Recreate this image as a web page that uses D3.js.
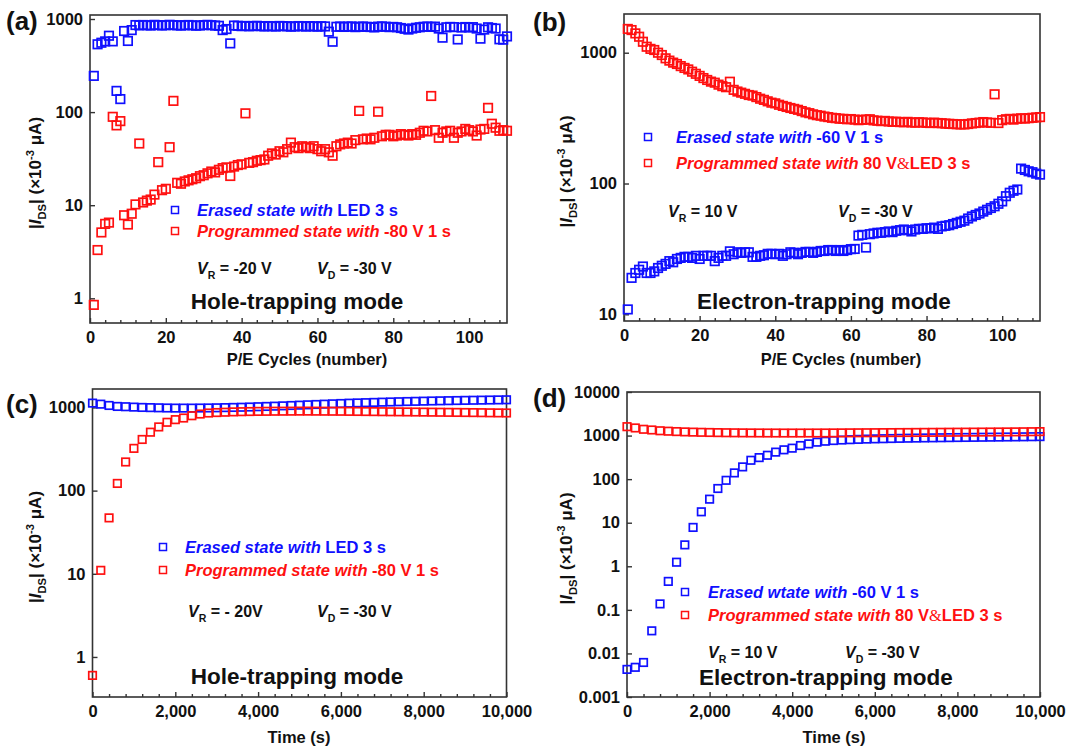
<!DOCTYPE html>
<html><head><meta charset="utf-8">
<script src="https://cdn.jsdelivr.net/npm/d3@7"></script>
<style>
body{margin:0;background:#fff}
text{font-family:"Liberation Sans",Arial,sans-serif;font-weight:bold}
</style>
</head><body><svg id="chart" width="1071" height="749"></svg>
<script>
// ---------- data ----------
const cycles = [1,2,3,4,5,6,7,8,9,10,11,12,13,14,15,16,17,18,19,20,21,22,23,24,25,26,27,28,29,30,31,32,33,34,35,36,37,38,39,40,41,42,43,44,45,46,47,48,49,50,51,52,53,54,55,56,57,58,59,60,61,62,63,64,65,66,67,68,69,70,71,72,73,74,75,76,77,78,79,80,81,82,83,84,85,86,87,88,89,90,91,92,93,94,95,96,97,98,99,100,101,102,103,104,105,106,107,108,109,110];
const times = [0,200,400,600,800,1000,1200,1400,1600,1800,2000,2200,2400,2600,2800,3000,3200,3400,3600,3800,4000,4200,4400,4600,4800,5000,5200,5400,5600,5800,6000,6200,6400,6600,6800,7000,7200,7400,7600,7800,8000,8200,8400,8600,8800,9000,9200,9400,9600,9800,10000];

// (a) hole-trapping, P/E cycles
const aErased = [245,535,556,575,661,575,169,138,743,581,760,
  861,855,862,858,850,865,860,852,858,866,860,855,850,858,862,855,848,852,860,865,858,850,845,
  760,780,547,
  850,845,838,842,835,840,845,838,832,840,836,830,842,838,835,828,832,840,836,830,838,834,828,836,832,
  731,570,
  825,830,822,828,832,818,826,830,824,820,812,828,832,826,818,822,815,800,785,770,790,805,815,825,830,822,828,790,630,815,822,818,603,810,820,812,818,790,615,770,815,800,790,605,600,650];
const aProg = [0.85,3.3,5.1,6.3,6.5,89,72,80,7.8,6.2,
  8.1,10.2,46,10.7,11.2,11.5,13,29,14.5,15,
  42,132,17.4,17,18,18.5,19,19.5,20.5,21,
  22,23,22.5,24,25,25.5,20.6,26,27,27.5,
  97,28.5,29,30,30.5,31,34,36,35,38,
  37,40,47,42,41,43,42,41,43,40,
  38,40,37,34,43,45,46,47,46,50,
  103,51,52,51,53,101,55,57,57,55,
  56,58,57,56,58,57,60,63,62,149,
  64,53,60,62,63,53,60,62,66,64,
  62,56,65,66,111,75,68,63,64,63];

// (b) electron-trapping, P/E cycles
const bErased = [10.9,19.0,20.7,21.9,23.2,20.7,20.7,21.3,22.6,23.5,
  24.3,25.5,25,26.5,27,27.5,27.5,27,28,26.5,
  28,28,28,25.5,27,28,28,30.3,28.8,29.8,
  29.5,29.8,29.8,27.5,27.5,28,28.3,29,29,28.8,
  29,28,28.8,29.8,29.5,28.8,29.5,30,30,29.5,
  30,30.5,30.5,31,31,30.5,31,30.5,31,31.5,
  31.6,40,40.5,32.4,41,41.5,42,42,42.5,43,
  42.5,43.5,44,44.5,44,43,44.5,45,45,45.5,
  45.5,46,45,47,47.5,48,49,50,51,52,
  54,56,57.5,59,61,63,65,67,70,73,
  80,85,88,90,130,127,124,122,119,117];
const bProg = [1520,1490,1405,1325,1213,1111,1070,1049,1000,960,
  906,870,840,820,790,765,745,716,690,665,
  640,619,601,590,570,555,545,600,520,505,
  495,485,475,470,458,445,436,425,415,410,
  400,392,385,378,372,366,358,350,345,338,
  333,330,325,322,318,316,313,312,310,311,
  308,305,307,308,310,304,302,300,301,298,
  296,297,295,294,296,293,292,294,293,291,
  290,292,290,289,287,286,285,284,283,283,
  285,288,290,292,295,293,291,481,290,305,
  310,312,308,313,315,314,316,318,320,322];

// (c) hole-trapping, retention
const cErased = [1127,1095,1056,1028,1020,1009,1000,995,990,985,982,982,982,984,986,990,995,1000,1005,1012,1020,1028,1036,1045,1055,1065,1075,1085,1095,1105,1115,1125,1133,1141,1149,1157,1164,1171,1178,1184,1190,1196,1201,1206,1211,1216,1220,1224,1228,1232,1236];
const cProg = [0.6,11,47,122,221,322,412,504,583,663,713,746,795,833,857,868,876,884,889,893,896,898,900,901,902,903,903,902,901,900,899,897,895,893,891,889,887,885,883,881,879,877,875,873,871,869,867,865,862,860,858];

// (d) electron-trapping, retention
const dErased = [0.0043,0.0048,0.0062,0.033,0.137,0.45,1.24,3.1,7.8,17.8,34.7,61,94,139,191,271,312,353,417,471,514,591,645,705,742,769,790,805,818,830,840,848,856,863,870,876,882,887,892,897,902,906,910,915,919,923,928,932,937,942,947];
const dProg = [1600,1496,1394,1345,1290,1260,1235,1215,1200,1188,1178,1170,1163,1158,1154,1150,1148,1146,1145,1144,1144,1144,1145,1146,1148,1150,1153,1156,1159,1162,1165,1168,1171,1174,1177,1180,1183,1186,1189,1192,1195,1198,1201,1204,1207,1210,1213,1217,1222,1227,1233];

// tick labels
const cycleTicks = [0,20,40,60,80,100];
const cycleMinor = [4,8,12,16,24,28,32,36,44,48,52,56,64,68,72,76,84,88,92,96,104,108];
const timeTicks = [0,2000,4000,6000,8000,10000];
const timeMinor = [400,800,1200,1600,2400,2800,3200,3600,4400,4800,5200,5600,6400,6800,7200,7600,8400,8800,9200,9600];
const yTicksA = [1,10,100,1000];
const yTicksB = [10,100,1000];
const yTicksC = [1,10,100,1000];
const yTicksD = [0.001,0.01,0.1,1,10,100,1000,10000];
const yLabelsD = ["0.001","0.01","0.1","1","10","100","1000","10000"];

const BLUE = "#1010ff", RED = "#ff1010", AX = "#333";
const FS = 16.5;
const svg = d3.select("#chart");

function rich(parent, x, y, parts, size, fill, anchor, transform) {
  const t = parent.append("text").attr("x", x).attr("y", y)
    .attr("font-size", size).attr("fill", fill).attr("text-anchor", anchor || "start");
  if (transform) t.attr("transform", transform);
  let cur = 0;
  parts.forEach(p => {
    const s = t.append("tspan").text(p.t);
    const shift = p.sub ? size * 0.32 : (p.sup ? -size * 0.4 : 0);
    const dy = shift - cur; cur = shift;
    if (dy) s.attr("dy", dy);
    if (p.sub || p.sup) s.attr("font-size", size * 0.66);
    if (p.i) s.attr("font-style", "italic");
    if (p.fam) s.attr("font-family", p.fam).attr("font-weight", p.w || "normal");
    if (p.fill) s.attr("fill", p.fill);
  });
  return t;
}

function panel(cfg) {
  const g = svg.append("g");
  const x = d3.scaleLinear().domain(cfg.xd).range([cfg.x0, cfg.x1]);
  const y = d3.scaleLog().domain(cfg.yd).range([cfg.y1, cfg.y0]);

  const ya = g.append("g").attr("transform", `translate(${cfg.x0},0)`)
    .call(d3.axisLeft(y).tickValues(cfg.yTicks).tickSizeInner(-5).tickSizeOuter(0).tickPadding(7)
      .tickFormat((d, i) => cfg.yLabels ? cfg.yLabels[i] : String(d)));
  const xa = g.append("g").attr("transform", `translate(0,${cfg.y1})`)
    .call(d3.axisBottom(x).tickValues(cfg.xTicks).tickSizeInner(-5).tickSizeOuter(0).tickPadding(8)
      .tickFormat(cfg.xFmt));
  const xm = g.append("g").attr("transform", `translate(0,${cfg.y1})`)
    .call(d3.axisBottom(x).tickValues(cfg.xMinor).tickSizeInner(-3).tickSizeOuter(0).tickFormat(""));
  [ya, xa, xm].forEach(a => {
    a.select(".domain").remove();
    a.selectAll("line").attr("stroke", AX).attr("stroke-width", 1.4);
    a.selectAll("text").attr("font-size", FS).attr("fill", "#111")
      .attr("font-family", "Liberation Sans, Arial, sans-serif").attr("font-weight", "bold");
  });

  g.append("rect").attr("x", cfg.x0).attr("y", cfg.y0)
    .attr("width", cfg.x1 - cfg.x0).attr("height", cfg.y1 - cfg.y0)
    .attr("fill", "none").attr("stroke", AX).attr("stroke-width", 1.6);

  cfg.series.forEach(s => {
    g.append("g").selectAll("rect").data(s.ys).join("rect")
      .attr("x", (d, i) => x(s.xs[i]) - cfg.ms / 2)
      .attr("y", d => y(d) - cfg.ms / 2)
      .attr("width", cfg.ms).attr("height", cfg.ms)
      .attr("fill", "none").attr("stroke", s.color).attr("stroke-width", 1.7);
  });

  cfg.legend.forEach((L, i) => {
    const ly = cfg.leg.y + i * cfg.leg.dy;
    g.append("rect").attr("x", cfg.leg.mx - 3.5).attr("y", ly - 3.5).attr("width", 7).attr("height", 7)
      .attr("fill", "none").attr("stroke", L.color).attr("stroke-width", 1.5);
    rich(g, cfg.leg.tx, ly + 6, L.parts, FS, L.color);
  });

  rich(g, cfg.vr.x, cfg.vr.y + 5, [{t: "V", i: true}, {t: "R", sub: true}, {t: cfg.vr.text}], 16, "#111");
  rich(g, cfg.vd.x, cfg.vd.y + 5, [{t: "V", i: true}, {t: "D", sub: true}, {t: " = -30 V"}], 16, "#111");
  g.append("text").attr("x", cfg.mode.x).attr("y", cfg.mode.y + 8).attr("text-anchor", "middle")
    .attr("font-size", 22.5).attr("fill", "#111").text(cfg.mode.text);

  g.append("text").attr("x", cfg.xt.x).attr("y", cfg.xt.y + 6).attr("text-anchor", "middle")
    .attr("font-size", FS).attr("fill", "#111").text(cfg.xt.text);
  const yc = (cfg.y0 + cfg.y1) / 2 + 4;
  rich(g, 0, 0, [{t: "|"}, {t: "I", i: true}, {t: "DS", sub: true}, {t: "| (×10"}, {t: "-3", sup: true}, {t: " μA)"}],
    17, "#111", "middle", `translate(${cfg.ytx},${yc}) rotate(-90)`);

  g.append("text").attr("x", cfg.lab.x).attr("y", cfg.lab.y).attr("font-size", 26).attr("fill", "#111").text(cfg.lab.t);
}

const ital = (t) => ({t, i: true});

panel({
  x0: 90, x1: 507, y0: 15, y1: 323, xd: [0, 110], yd: [0.543, 1104], ms: 8.5,
  xTicks: cycleTicks, xMinor: cycleMinor, xFmt: d3.format("d"), yTicks: yTicksA,
  series: [{xs: cycles, ys: aErased, color: BLUE}, {xs: cycles, ys: aProg, color: RED}],
  leg: {mx: 175, tx: 197, y: 210, dy: 21},
  legend: [
    {color: BLUE, parts: [ital("Erased state with"), {t: " LED 3 s"}]},
    {color: RED, parts: [ital("Programmed state with"), {t: " -80 V 1 s"}]}
  ],
  vr: {x: 197, y: 269, text: " = -20 V"}, vd: {x: 317, y: 269},
  mode: {x: 297, y: 301, text: "Hole-trapping mode"},
  xt: {x: 307, y: 359, text: "P/E Cycles (number)"}, ytx: 41,
  lab: {x: 6, y: 30, t: "(a)"}
});

panel({
  x0: 624, x1: 1040, y0: 14, y1: 321, xd: [0, 110], yd: [8.89, 1977], ms: 8.5,
  xTicks: cycleTicks, xMinor: cycleMinor, xFmt: d3.format("d"), yTicks: yTicksB,
  series: [{xs: cycles, ys: bErased, color: BLUE}, {xs: cycles, ys: bProg, color: RED}],
  leg: {mx: 648, tx: 676, y: 137, dy: 26},
  legend: [
    {color: BLUE, parts: [ital("Erased state with"), {t: " -60 V 1 s"}]},
    {color: RED, parts: [ital("Programmed state with"), {t: " 80 V"}, {t: "&", fam: "Liberation Serif", w: "normal"}, {t: "LED 3 s"}]}
  ],
  vr: {x: 668, y: 212, text: " = 10 V"}, vd: {x: 838, y: 212},
  mode: {x: 824, y: 301, text: "Electron-trapping mode"},
  xt: {x: 841, y: 359, text: "P/E Cycles (number)"}, ytx: 572,
  lab: {x: 533, y: 31, t: "(b)"}
});

panel({
  x0: 92.5, x1: 506.5, y0: 389, y1: 697, xd: [0, 10000], yd: [0.33, 1666], ms: 7.5,
  xTicks: timeTicks, xMinor: timeMinor, xFmt: d3.format(","), yTicks: yTicksC,
  series: [{xs: times, ys: cErased, color: BLUE}, {xs: times, ys: cProg, color: RED}],
  leg: {mx: 163, tx: 185, y: 547, dy: 23},
  legend: [
    {color: BLUE, parts: [ital("Erased state with"), {t: " LED 3 s"}]},
    {color: RED, parts: [ital("Programmed state with"), {t: " -80 V 1 s"}]}
  ],
  vr: {x: 188, y: 612, text: " = - 20V"}, vd: {x: 317, y: 612},
  mode: {x: 297, y: 676, text: "Hole-trapping mode"},
  xt: {x: 299, y: 737, text: "Time (s)"}, ytx: 41,
  lab: {x: 6, y: 413, t: "(c)"}
});

panel({
  x0: 627, x1: 1040, y0: 392, y1: 697, xd: [0, 10000], yd: [0.001, 10000], ms: 7.5,
  xTicks: timeTicks, xMinor: timeMinor, xFmt: d3.format(","), yTicks: yTicksD, yLabels: yLabelsD,
  series: [{xs: times, ys: dErased, color: BLUE}, {xs: times, ys: dProg, color: RED}],
  leg: {mx: 685, tx: 708, y: 592, dy: 23},
  legend: [
    {color: BLUE, parts: [ital("Erased wtate with"), {t: " -60 V 1 s"}]},
    {color: RED, parts: [ital("Programmed state with"), {t: " 80 V"}, {t: "&", fam: "Liberation Serif", w: "normal"}, {t: "LED 3 s"}]}
  ],
  vr: {x: 708, y: 653, text: " = 10 V"}, vd: {x: 845, y: 653},
  mode: {x: 826, y: 677, text: "Electron-trapping mode"},
  xt: {x: 834, y: 737, text: "Time (s)"}, ytx: 572,
  lab: {x: 533, y: 407, t: "(d)"}
});
</script></body></html>
